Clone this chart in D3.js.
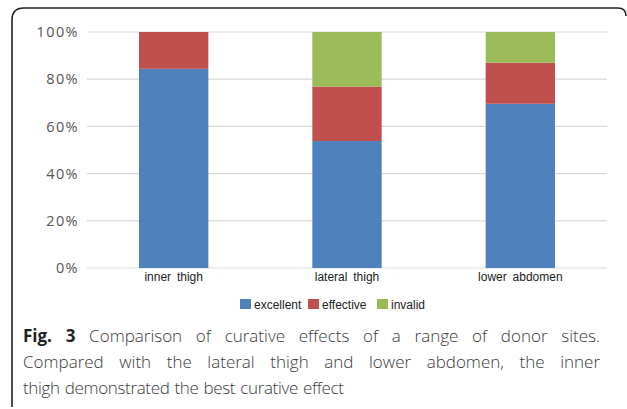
<!DOCTYPE html>
<html>
<head>
<meta charset="utf-8">
<script src="https://cdn.jsdelivr.net/npm/d3@7"></script>
<style>
  body { margin: 0; background: #fff; }
  #wrap { position: relative; width: 627px; height: 409px; }
  #caption {
    position: absolute; left: 23px; top: 323px; width: 577px;
    font-family: "Open Sans", "Noto Sans", sans-serif; font-size: 17px; font-weight: 300;
    line-height: 26px; color: #3a3a3a;
  }
  #caption .j { text-align: justify; text-align-last: justify; white-space: nowrap; }
  #caption .w { letter-spacing: -0.35px; word-spacing: 1px; }
  #caption b { color: #222; font-weight: 700; }
</style>
</head>
<body>
<div id="wrap">
  <svg id="chart" width="627" height="409"></svg>
  <div id="caption"></div>
</div>
<script>
const sites = ["inner thigh", "lateral thigh", "lower abdomen"];
const seriesNames = ["excellent", "effective", "invalid"];
const excellent = [84.4, 53.8, 69.6];
const effective = [15.6, 23.1, 17.4];
const invalid = [0, 23.1, 13.0];
const tickValues = [0, 20, 40, 60, 80, 100];
const colors = ["#4f81bd", "#c0504d", "#9bbb59"];
const captionLabel = "Fig. 3";
const captionLines = [
  "Comparison of curative effects of a range of donor sites.",
  "Compared with the lateral thigh and lower abdomen, the inner",
  "thigh demonstrated the best curative effect"
];

const rows = sites.map((s, i) => ({
  site: s, excellent: excellent[i], effective: effective[i], invalid: invalid[i]
}));

const svg = d3.select("#chart");

// frame
svg.append("path")
  .attr("d", "M12,407 Q12,404 12,400 L12,20 Q12,8 24,8 L618,8 Q626,8 626,16")
  .attr("fill", "none").attr("stroke", "#222").attr("stroke-width", 1.6);

const x = d3.scaleBand().domain(sites).range([87, 607])
  .paddingInner(0.6).paddingOuter(0.3);
const y = d3.scaleLinear().domain([0, 100]).range([268, 32]);

// grid
svg.append("g").selectAll("line").data(tickValues).enter().append("line")
  .attr("x1", 87).attr("x2", 607)
  .attr("y1", d => y(d)).attr("y2", d => y(d))
  .attr("stroke", "#d9d9d9").attr("stroke-width", 1.2);

// y axis labels
const yAxis = svg.append("g").attr("transform", "translate(79,0)")
  .call(d3.axisLeft(y).tickValues(tickValues).tickFormat(d => d + "%").tickSize(0).tickPadding(0));
yAxis.select(".domain").remove();
yAxis.selectAll("text")
  .attr("font-family", "'Open Sans', 'Noto Sans', sans-serif")
  .attr("font-size", "14.5px").attr("letter-spacing", "1.4px").attr("fill", "#555");

// stacked bars
const stack = d3.stack().keys(seriesNames)(rows);
svg.append("g").selectAll("g").data(stack).enter().append("g")
  .attr("fill", (d, i) => colors[i])
  .selectAll("rect").data(d => d).enter().append("rect")
  .attr("x", d => x(d.data.site))
  .attr("width", x.bandwidth())
  .attr("y", d => y(d[1]))
  .attr("height", d => y(d[0]) - y(d[1]));

// x axis labels
const xAxis = svg.append("g").attr("transform", "translate(0,268)")
  .call(d3.axisBottom(x).tickSize(0).tickPadding(4));
xAxis.select(".domain").remove();
xAxis.selectAll("text")
  .attr("font-family", "'Liberation Sans', Arial, sans-serif")
  .attr("font-size", "12px").attr("fill", "#222")
  .attr("word-spacing", "2.5px");

// legend
const legendX = [240, 308, 377];
const legend = svg.append("g").selectAll("g").data(seriesNames).enter().append("g")
  .attr("transform", (d, i) => `translate(${legendX[i]},299)`);
legend.append("rect").attr("width", 11).attr("height", 10)
  .attr("fill", (d, i) => colors[i]);
legend.append("text").attr("x", 14).attr("y", 9.5)
  .attr("font-family", "'Liberation Sans', Arial, sans-serif")
  .attr("font-size", "12px").attr("fill", "#222")
  .text(d => d);

// caption
const cap = d3.select("#caption");
const l1 = cap.append("div").attr("class", "j");
l1.append("b").text(captionLabel);
l1.append("span").text(" " + captionLines[0]);
cap.append("div").attr("class", "j").text(captionLines[1]);
cap.append("div").attr("class", "w").text(captionLines[2]);
</script>
</body>
</html>
